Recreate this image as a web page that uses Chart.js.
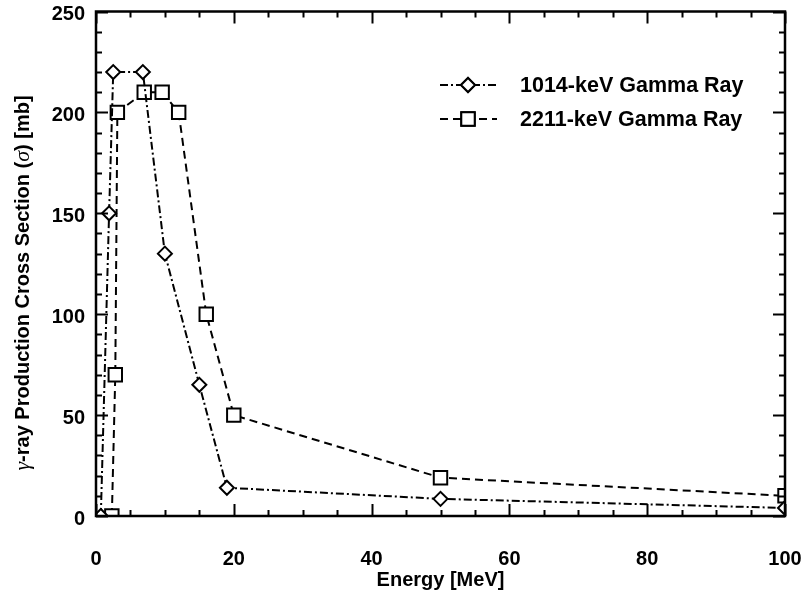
<!DOCTYPE html>
<html>
<head>
<meta charset="utf-8">
<script src="https://cdn.jsdelivr.net/npm/chart.js@4.4.1/dist/chart.umd.min.js"></script>
<style>
  html, body { margin: 0; padding: 0; background: #fff; }
</style>
</head>
<body>
<canvas id="chart" width="805" height="595"></canvas>
<script>
// data
const energy1014 = [0.7, 1.9, 2.5, 6.8, 10, 15, 19, 50, 100];
const sigma1014  = [0, 150, 220, 220, 130, 65, 14, 8.5, 4];
const energy2211 = [2.3, 2.8, 3.1, 7, 9.6, 12, 16, 20, 50, 100];
const sigma2211  = [0, 70, 200, 210, 210, 200, 100, 50, 19, 10];
const xTicks = [0, 20, 40, 60, 80, 100];
const yTicks = [0, 50, 100, 150, 200, 250];
const labels = ['1014-keV Gamma Ray', '2211-keV Gamma Ray'];

const FONT = "'Liberation Sans', Arial, Helvetica, sans-serif";

function toPoints(xs, ys) {
    return xs.map((x, i) => ({ x: x, y: ys[i] }));
}

// frame + inward ticks on all four sides
const framePlugin = {
    id: 'frame',
    afterDatasetsDraw(chart) {
        const ctx = chart.ctx;
        const a = chart.chartArea;
        const xs = chart.scales.x, ys = chart.scales.y;
        ctx.save();
        ctx.strokeStyle = '#000';
        ctx.lineWidth = 2;
        for (let v = xs.min; v <= xs.max; v += 5) {
            const px = Math.round(xs.getPixelForValue(v)) + 0.5;
            const len = v % 20 === 0 ? 12 : 6;
            ctx.beginPath();
            ctx.moveTo(px, a.bottom); ctx.lineTo(px, a.bottom - len);
            ctx.moveTo(px, a.top); ctx.lineTo(px, a.top + len);
            ctx.stroke();
        }
        for (let v = ys.min; v <= ys.max; v += 10) {
            const py = Math.round(ys.getPixelForValue(v)) + 0.5;
            const len = v % 50 === 0 ? 12 : 6;
            ctx.beginPath();
            ctx.moveTo(a.left, py); ctx.lineTo(a.left + len, py);
            ctx.moveTo(a.right, py); ctx.lineTo(a.right - len, py);
            ctx.stroke();
        }
        ctx.lineWidth = 2.5;
        ctx.strokeRect(a.left, a.top, a.right - a.left, a.bottom - a.top);
        ctx.restore();
    }
};

// y title with italic greek letters
const yTitlePlugin = {
    id: 'yTitle',
    afterDraw(chart) {
        const ctx = chart.ctx;
        const bold = 'bold 20px ' + FONT;
        const ital = "italic 22px 'Liberation Serif', 'DejaVu Serif', serif";
        const parts = [['γ', ital], ['-ray Production Cross Section (', bold], ['σ', ital], [') [mb]', bold]];
        ctx.save();
        let total = 0;
        parts.forEach(p => { ctx.font = p[1]; total += ctx.measureText(p[0]).width; });
        ctx.translate(22, 283);
        ctx.rotate(-Math.PI / 2);
        ctx.fillStyle = '#000';
        ctx.textBaseline = 'middle';
        let x = -total / 2;
        parts.forEach(p => {
            ctx.font = p[1];
            ctx.fillText(p[0], x, 1);
            x += ctx.measureText(p[0]).width;
        });
        ctx.restore();
    }
};

// legend with line sample and marker
const legendPlugin = {
    id: 'lineLegend',
    afterDraw(chart) {
        const ctx = chart.ctx;
        ctx.save();
        chart.data.datasets.forEach((ds, i) => {
            const y = 85 + i * 34;
            ctx.strokeStyle = '#000';
            ctx.lineWidth = 2;
            ctx.setLineDash(ds.borderDash);
            ctx.beginPath();
            ctx.moveTo(440, y); ctx.lineTo(497, y);
            ctx.stroke();
            ctx.setLineDash([]);
            Chart.helpers.drawPoint(ctx, {
                pointStyle: ds.pointStyle,
                radius: ds.pointRadius,
                borderWidth: ds.pointBorderWidth,
                rotation: 0
            }, 468, y);
            ctx.fillStyle = '#fff';
            ctx.fill();
            ctx.stroke();
            ctx.fillStyle = '#000';
            ctx.font = 'bold 21.5px ' + FONT;
            ctx.textBaseline = 'middle';
            ctx.fillText(ds.label, 520, y + 1);
        });
        ctx.restore();
    }
};

new Chart(document.getElementById('chart'), {
    type: 'scatter',
    data: {
        datasets: [{
            label: labels[0],
            data: toPoints(energy1014, sigma1014),
            showLine: true,
            borderColor: '#000',
            borderWidth: 2,
            borderDash: [8, 3, 2, 3],
            pointStyle: 'rectRot',
            pointRadius: 7,
            pointBorderWidth: 2,
            pointBackgroundColor: '#fff',
            pointBorderColor: '#000',
            clip: 0
        }, {
            label: labels[1],
            data: toPoints(energy2211, sigma2211),
            showLine: true,
            borderColor: '#000',
            borderWidth: 2,
            borderDash: [8, 5],
            pointStyle: 'rect',
            pointRadius: 9.5,
            pointBorderWidth: 2,
            pointBackgroundColor: '#fff',
            pointBorderColor: '#000',
            clip: 0
        }]
    },
    options: {
        responsive: false,
        devicePixelRatio: 1,
        animation: false,
        layout: { padding: 0 },
        plugins: {
            legend: { display: false },
            tooltip: { enabled: false }
        },
        scales: {
            x: {
                type: 'linear',
                min: 0,
                max: 100,
                afterBuildTicks: s => { s.ticks = xTicks.map(v => ({ value: v })); },
                afterFit: s => {
                    s.height = 79;
                    s.paddingLeft = 0;
                    s.paddingRight = 20;
                },
                grid: { display: false, drawTicks: false },
                border: { display: false },
                ticks: {
                    color: '#000',
                    padding: 31,
                    maxRotation: 0,
                    font: { family: FONT, size: 20, weight: 'bold' }
                },
                title: {
                    display: true,
                    text: 'Energy [MeV]',
                    color: '#000',
                    padding: { top: 0, bottom: 3 },
                    font: { family: FONT, size: 20, weight: 'bold' }
                }
            },
            y: {
                type: 'linear',
                min: 0,
                max: 250,
                afterBuildTicks: s => { s.ticks = yTicks.map(v => ({ value: v })); },
                afterFit: s => {
                    s.width = 96;
                    s.paddingTop = 11;
                    s.paddingBottom = 0;
                },
                grid: { display: false, drawTicks: false },
                border: { display: false },
                ticks: {
                    color: '#000',
                    padding: 11,
                    labelOffset: 3,
                    font: { family: FONT, size: 20, weight: 'bold' }
                },
                title: { display: false }
            }
        }
    },
    plugins: [framePlugin, yTitlePlugin, legendPlugin]
});
</script>
</body>
</html>
